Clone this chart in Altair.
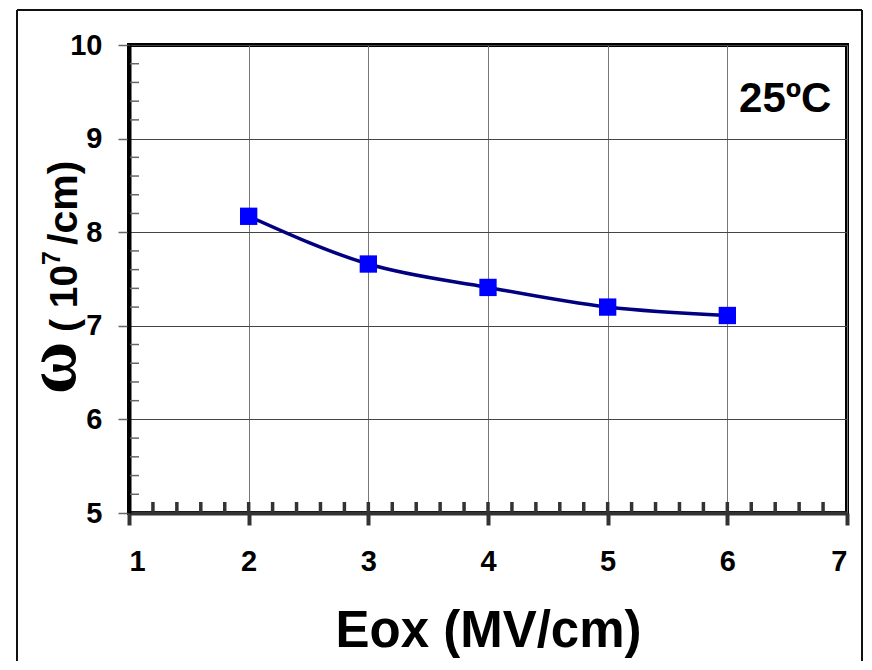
import altair as alt
import pandas as pd

# data
eox = [2, 3, 4, 5, 6]
omega = [8.17, 7.66, 7.41, 7.20, 7.11]

x_ticks = [1, 2, 3, 4, 5, 6, 7]
y_ticks = [5, 6, 7, 8, 9, 10]
x_minor = [1.2, 1.4, 1.6, 1.8, 2.0, 2.2, 2.4, 2.6, 2.8, 3.0, 3.2, 3.4, 3.6, 3.8,
           4.0, 4.2, 4.4, 4.6, 4.8, 5.0, 5.2, 5.4, 5.6, 5.8, 6.0, 6.2, 6.4, 6.6, 6.8]
y_minor = [5.2, 5.4, 5.6, 5.8, 6.2, 6.4, 6.6, 6.8, 7.2, 7.4, 7.6, 7.8,
           8.2, 8.4, 8.6, 8.8, 9.2, 9.4, 9.6, 9.8]

label_text = ["25ºC"]
label_x = [6.87]
label_y = [9.28]

FONT = "Liberation Sans"
W, H = 718, 468

df = pd.DataFrame({"x": eox, "y": omega})
df_xm = pd.DataFrame({"xm": x_minor})
df_ym = pd.DataFrame({"ym": y_minor})
df_lab = pd.DataFrame({"t": label_text, "x": label_x, "y": label_y})

xscale = alt.Scale(domain=[1, 7], nice=False, zero=False)
yscale = alt.Scale(domain=[5, 10], nice=False, zero=False)

xaxis = alt.Axis(values=x_ticks, title="Eox (MV/cm)", format="d",
                 domainColor="#333333", domainWidth=4,
                 tickColor="#333333", tickWidth=4, tickSize=12,
                 gridColor="#777777", gridWidth=1,
                 labelFont=FONT, labelFontSize=29, labelFontWeight="bold",
                 labelColor="black", labelPadding=22,
                 titleFont=FONT, titleFontSize=51, titleFontWeight="bold",
                 titleColor="black", titlePadding=30)
yaxis = alt.Axis(values=y_ticks, title=None, format="d",
                 domainColor="black", domainWidth=4,
                 tickColor="#666666", tickWidth=1.5, tickSize=11,
                 gridColor="#444444", gridWidth=1,
                 labelFont=FONT, labelFontSize=29, labelFontWeight="bold",
                 labelColor="black", labelPadding=16)

base = alt.Chart(df)

line = base.mark_line(interpolate="monotone", color="#000080", strokeWidth=3.5).encode(
    x=alt.X("x:Q", scale=xscale, axis=xaxis),
    y=alt.Y("y:Q", scale=yscale, axis=yaxis),
)
pts = base.mark_point(shape="square", filled=True, size=300, color="#0000FF", opacity=1).encode(
    x=alt.X("x:Q", scale=xscale),
    y=alt.Y("y:Q", scale=yscale),
)

xm = alt.Chart(df_xm).mark_rule(color="#333333", strokeWidth=3.5).encode(
    x=alt.X("xm:Q", scale=xscale),
    y=alt.value(H - 1),
    y2=alt.value(H - 11),
)
ym = alt.Chart(df_ym).mark_rule(color="#666666", strokeWidth=1.5).encode(
    y=alt.Y("ym:Q", scale=yscale),
    x=alt.value(1),
    x2=alt.value(10),
)

lab = alt.Chart(df_lab).mark_text(font=FONT, fontSize=42, fontWeight="bold",
                                  align="right", baseline="alphabetic", color="black").encode(
    x=alt.X("x:Q", scale=xscale),
    y=alt.Y("y:Q", scale=yscale),
    text="t:N",
)


def rot_text(txt, x, y, size, font=FONT, align="left"):
    return alt.Chart(pd.DataFrame({"t": [txt]})).mark_text(
        font=font, fontSize=size, fontWeight="bold", angle=270,
        align=align, baseline="alphabetic", color="black").encode(
        x=alt.value(x), y=alt.value(y), text="t:N")


yt1 = rot_text("( 10", -52, 287, 39)
yt2 = rot_text("7", -69, 220, 25)
yt3 = rot_text("/cm)", -52, 200, 41)
yt_w = rot_text("ω", -54, 323, 72, font="Liberation Serif", align="center")


def frame_rule(x, x2, y, y2):
    return alt.Chart(pd.DataFrame({"a": [0]})).mark_rule(
        color="#111111", strokeWidth=2).encode(
        x=alt.value(x), x2=alt.value(x2), y=alt.value(y), y2=alt.value(y2))


f_top = frame_rule(-112, 733, -35, -35)
f_left = frame_rule(-112, -112, -35, 700)
f_right = frame_rule(733, 733, -35, 700)

chart = alt.layer(f_top, f_left, f_right, ym, xm, line, pts, lab,
                  yt1, yt2, yt3, yt_w).properties(
    width=W, height=H,
    autosize=alt.AutoSizeParams(type="none"),
    padding={"left": 121, "top": 37, "right": 17, "bottom": 148},
    background="white",
).configure_view(stroke="black", strokeWidth=4)

chart.save("out.html", embed_options={"renderer": "svg", "actions": False})
